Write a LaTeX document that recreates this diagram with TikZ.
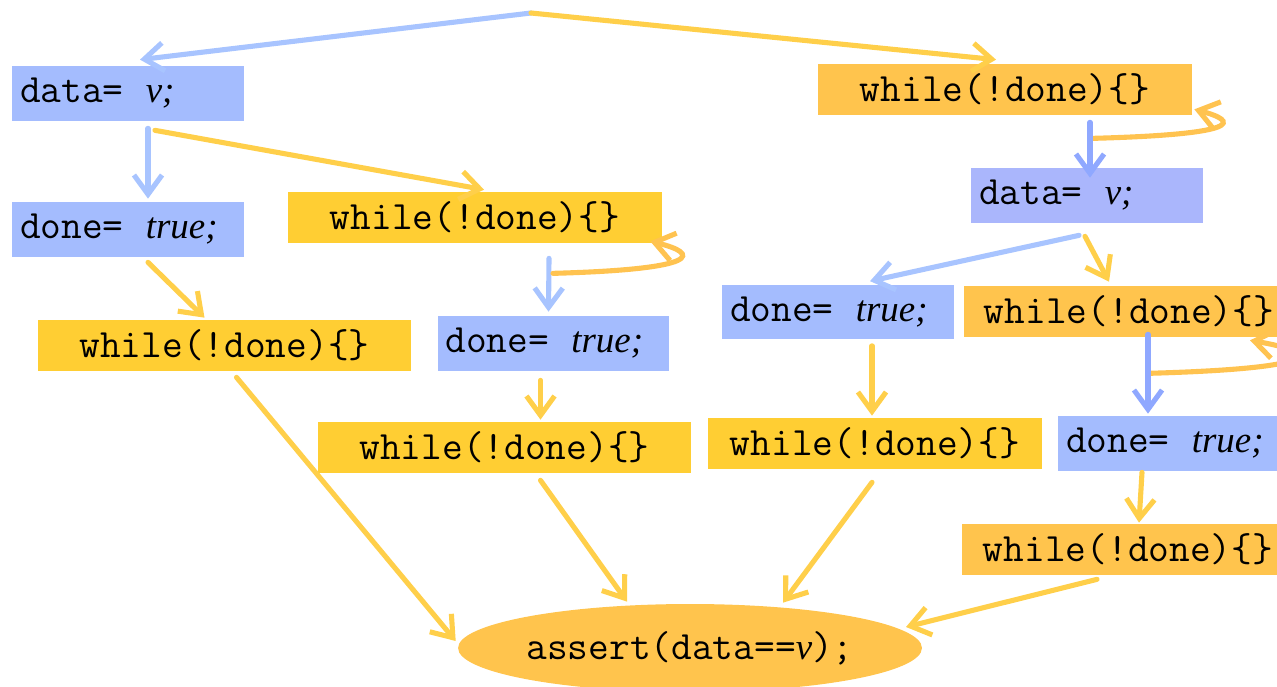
\documentclass[tikz,border=0pt]{standalone}
\usepackage{fontspec}
\setmainfont{Liberation Serif}
\usepackage{tikz}
\usetikzlibrary{arrows.meta, shapes.geometric, calc}
\definecolor{sky}{RGB}{164,188,254}
\definecolor{lilac}{RGB}{170,182,252}
\definecolor{gold}{RGB}{255,206,51}
\definecolor{amber}{RGB}{255,196,77}
\definecolor{skyline}{RGB}{168,196,255}
\definecolor{blueline}{RGB}{143,168,255}
\definecolor{goldline}{RGB}{255,207,74}
\definecolor{amberline}{RGB}{255,195,80}

\newcommand{\itvar}[1]{{\fontsize{21}{25}\selectfont\rmfamily\itshape #1}}
\newcommand{\spin}{while(!done)\{\}}

\begin{document}
\begin{tikzpicture}[
    x=0.02cm, y=-0.02cm,
    font=\fontsize{22.9}{27}\selectfont\ttfamily,
    sbox/.style={rectangle, fill=sky, text width=4.32cm, inner xsep=0.16cm,
                 minimum height=1.1cm, align=left},
    lbox/.style={sbox, fill=lilac},
    wbox/.style={rectangle, fill=gold, minimum width=7.48cm,
                 minimum height=1.02cm, inner sep=0pt},
    abox/.style={wbox, fill=amber},
    arr/.style={-{Straight Barb[length=11pt, width=16pt]}, line width=2.9pt,
                line cap=round},
    sarr/.style={arr, draw=skyline},
    barr/.style={arr, draw=blueline},
    garr/.style={arr, draw=goldline},
    aarr/.style={arr, draw=amberline}
  ]
    \clip (0,0) rectangle (1277,686);

    % Left thread
    \node[sbox] (data1) at (128,93.5)   {data=\hspace{5pt} \itvar{v;}};
    \node[sbox] (done1) at (128,229.5)  {done=\hspace{5pt} \itvar{true;}};
    \node[wbox] (wait1) at (475,217.5)  {\spin};
    \node[wbox] (wait2) at (224.5,345.5){\spin};
    \node[sbox] (done2) at (553.5,343.5){done=\hspace{5pt} \itvar{true;}};
    \node[wbox] (wait3) at (504.5,447.5){\spin};

    % Right thread
    \node[abox] (wait4) at (1005,89.5)  {\spin};
    \node[lbox] (data2) at (1087,195.5) {data=\hspace{5pt} \itvar{v;}};
    \node[sbox] (done3) at (838,312)    {done=\hspace{5pt} \itvar{true;}};
    \node[abox, minimum width=6.6cm]  (wait5) at (1129,311.5) {\spin};
    \node[sbox] (done4) at (1174,443.5) {done=\hspace{5pt} \itvar{true;}};
    \node[wbox, minimum width=6.68cm] (wait7) at (875,443.5)  {\spin};
    \node[abox, minimum width=6.64cm] (wait6) at (1128,549.5) {\spin};

    % Final check
    \node[ellipse, fill=amber, minimum width=9.28cm, minimum height=1.76cm,
          inner sep=0pt] (check) at (690,648) {assert(data==\itvar{v});};

    \coordinate (src) at (531,13);

    \draw[sarr] (src) -- ($(data1.north)+(12,-6)$);
    \draw[garr] (src) -- ($(wait4.north)+(-9,-4)$);

    \draw[sarr] ($(data1.south)+(20,7)$) -- ($(done1.north)+(20,-3)$);
    \draw[garr] ($(data1.south)+(27,9)$) -- ($(wait1.north)+(9,-2)$);
    \draw[garr] ($(done1.south)+(20,5)$) -- ($(wait2.north)+(-20,-2)$);
    \draw[sarr] ($(wait1.south)+(74,15)$) -- ($(done2.north)+(-5,-4)$);
    \draw[aarr] ($(wait1.south)+(78,30)$) .. controls +(150,-4) and +(50,12)
                .. ($(wait1.south east)+(-12,-2)$);
    \draw[garr] ($(wait2.south)+(12,6)$) -- ($(check.west)+(-2,-7)$);
    \draw[garr] ($(done2.south)+(-13,9)$) -- ($(wait3.north)+(36,-2)$);
    \draw[garr] ($(wait3.south)+(36,7)$) -- ($(check.north)+(-63,-2)$);

    \draw[aarr] ($(wait4.south)+(88,23)$) .. controls +(150,-4) and +(45,12)
                .. ($(wait4.south east)+(2,-6)$);
    \draw[barr] ($(wait4.south)+(85,7)$) -- ($(data2.north)+(3,10)$);
    \draw[sarr] ($(data2.south)+(-8,12)$) -- ($(done3.north)+(32,-3)$);
    \draw[garr] ($(data2.south)+(-2,13)$) -- ($(wait5.north)+(-20,-4)$);
    \draw[garr] ($(done3.south)+(34,6)$) -- ($(wait7.north)+(-3,-2)$);
    \draw[aarr] ($(wait5.south)+(19,36)$) .. controls +(180,-5) and +(70,12)
                .. ($(wait5.south)+(121,3)$);
    \draw[barr] ($(wait5.south)+(19,-3)$) -- ($(done4.north)+(-26,-2)$);
    \draw[garr] ($(wait7.south)+(-3,13)$) -- ($(check.north)+(93,-1)$);
    \draw[garr] ($(done4.south)+(-32,1)$) -- ($(wait6.north)+(11,-1)$);
    \draw[garr] ($(wait6.south)+(-31,4)$) -- ($(check.center)+(216,-21)$);
  \end{tikzpicture}
\end{document}
